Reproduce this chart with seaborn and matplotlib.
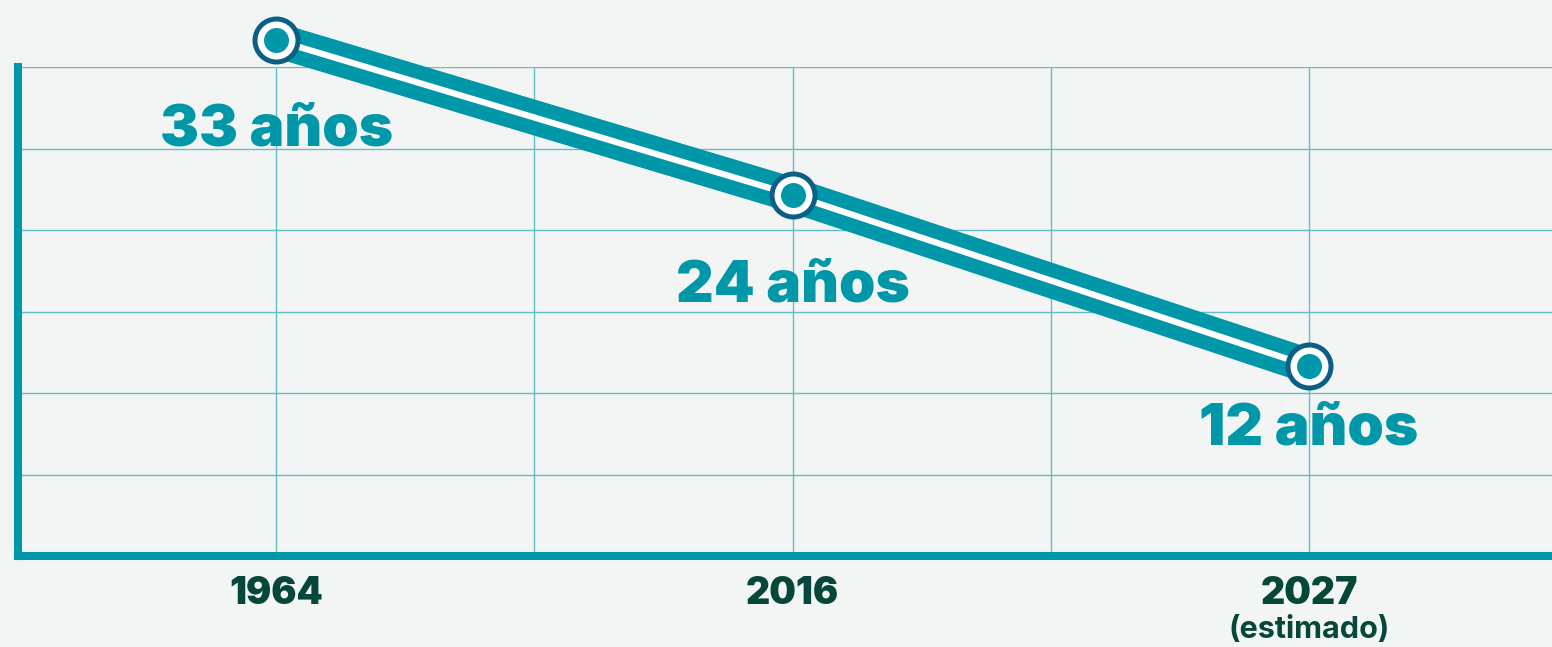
import matplotlib.pyplot as plt
import seaborn as sb
import pandas as pd


anios = ["1964", "2016", "2027"]
posicion = [1, 3, 5]
nivel = [6.33, 4.43, 2.33]
etiquetas = ["33 años", "24 años", "12 años"]
nota = "(estimado)"

# layout only
label_drop = [65, 66, 46]

bg = "#f3f5f4"
teal = "#0097a8"
grid = "#62bfca"
dark = "#0b5f86"
green = "#05473a"

sb.set_theme(style="white")
plt.rcParams["font.family"] = ["Inter", "DejaVu Sans"]

fig = plt.figure(figsize=(15.52, 6.47), dpi=100, facecolor=bg)
ax = fig.add_axes([18 / 1552, 91 / 647, 1534 / 1552, 489 / 647])
ax.set_facecolor(bg)

df = pd.DataFrame({"x": posicion, "y": nivel})

sb.lineplot(data=df, x="x", y="y", color=teal, linewidth=25,
	solid_capstyle="butt", clip_on=False, zorder=3, ax=ax)
sb.lineplot(data=df, x="x", y="y", color="white", linewidth=4.5,
	solid_capstyle="butt", clip_on=False, zorder=4, ax=ax)

for size, col, z in [(1194, dark, 5), (749, "white", 6), (324, teal, 7)]:
	sb.scatterplot(data=df, x="x", y="y", s=size, color=col, linewidth=0,
		clip_on=False, zorder=z, ax=ax)

for x, y, txt, d in zip(posicion, nivel, etiquetas, label_drop):
	ax.annotate(txt, xy=(x, y), xytext=(0, -d), textcoords="offset points",
		ha="center", va="center", fontsize=42, fontweight="black",
		color=teal, zorder=8, annotation_clip=False)

ax.set_xlim(0, 1534 / 258.2)
ax.set_ylim(0, 6)

ax.set_xticks(range(0, 6))
ax.set_xticklabels(["" if i not in posicion else anios[posicion.index(i)] for i in range(0, 6)],
	fontsize=27, fontweight="black", color=green)
ax.set_yticks(range(0, 7))
ax.set_yticklabels([])
ax.set_yticks([nivel[2]], minor=True)

ax.tick_params(axis="x", length=0, pad=14.5)
ax.tick_params(axis="y", which="major", length=0)
ax.tick_params(axis="y", which="minor", length=13, width=5.8, color=teal, direction="out")

ax.grid(True, which="major", color=grid, linewidth=1)
ax.set_axisbelow(True)

ax.annotate(nota, xy=(posicion[2], 0), xytext=(0, -53), textcoords="offset points",
	ha="center", va="center", fontsize=22, fontweight="bold", color=green,
	annotation_clip=False)

for side in ["top", "right"]:
	ax.spines[side].set_visible(False)
for side in ["left", "bottom"]:
	ax.spines[side].set_color(teal)
	ax.spines[side].set_linewidth(5.8)

ax.set_xlabel("")
ax.set_ylabel("")

plt.savefig("out.png", dpi=100, facecolor=bg)
